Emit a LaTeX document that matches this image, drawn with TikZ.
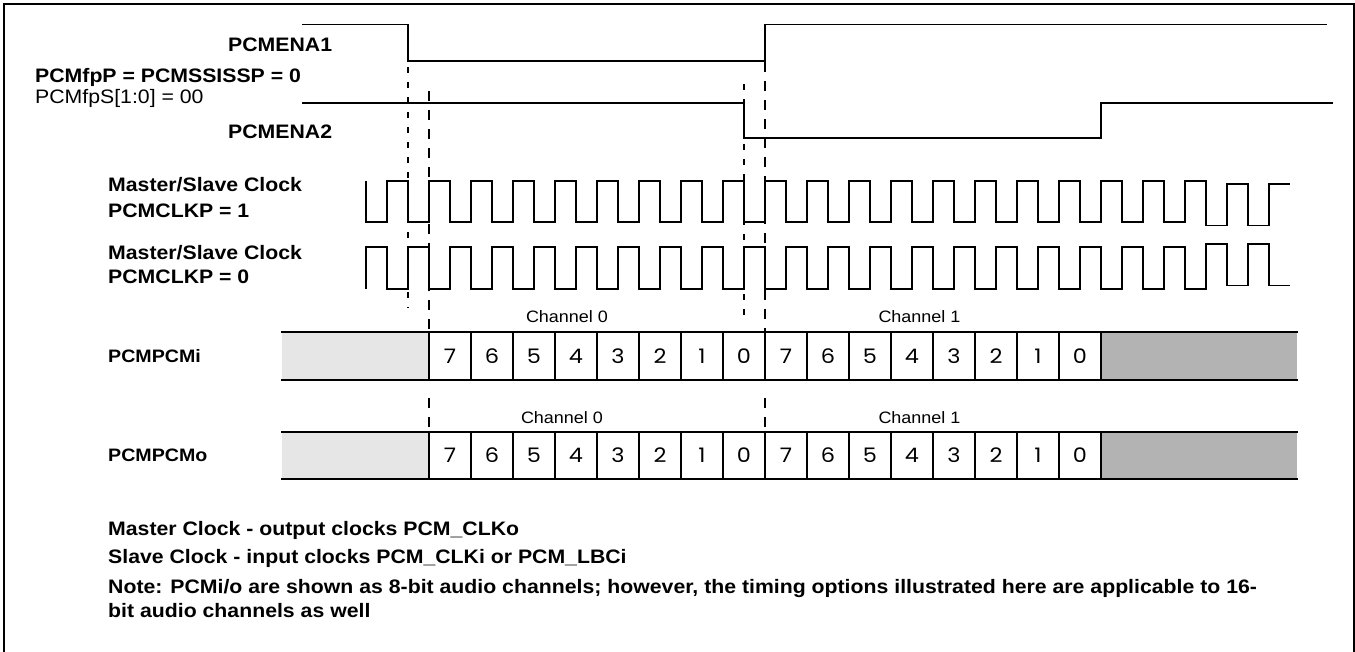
\documentclass[tikz,border=0pt]{standalone}
\usepackage{fontspec}
\setmainfont{Liberation Sans}[FakeStretch=1.09]
\newfontfamily\digitfont{Poppins}[FakeStretch=1.12]
\definecolor{lightg}{HTML}{E6E6E6}
\definecolor{darkg}{HTML}{B3B3B3}
\begin{document}
\begin{tikzpicture}[x=1pt,y=-1pt,
  sig/.style={line width=1.6pt},
  frameline/.style={line width=2pt},
  boxline/.style={line width=1.4pt},
  dashA/.style={line width=1.6pt, dash pattern=on 6pt off 9pt},
  dashB/.style={line width=1.6pt, dash pattern=on 10pt off 9pt},
  lbl/.style={anchor=base west, inner sep=0pt, font=\fontsize{19.5}{22}\selectfont\bfseries},
  rowlbl/.style={anchor=base west, inner sep=0pt, font=\fontsize{18}{21}\selectfont\bfseries},
  lblreg/.style={anchor=base west, inner sep=0pt, font=\fontsize{19.5}{22}\selectfont},
  note/.style={anchor=base west, inner sep=0pt, font=\fontsize{19.5}{22}\selectfont\bfseries},
  chan/.style={anchor=center, inner sep=0pt, font=\fontsize{16.5}{19}\selectfont},
  digit/.style={anchor=center, inner sep=0pt, font=\fontsize{20}{22}\digitfont}]
\useasboundingbox (0,0) rectangle (1355,652);
% frame
\draw[frameline] (4,654) -- (4,4) -- (1354,4) -- (1354,654);
% enable signals
\draw[sig] (302,24.5) -- (408,24.5) -- (408,61) -- (765,61) -- (765,24.5) -- (1327,24.5);
\draw[sig] (302,103) -- (744,103) -- (744,138) -- (1101,138) -- (1101,103) -- (1333,103);
% clocks
\draw[sig] (366,181) -- (366,222)
  \foreach \k in {0,...,18}{ -- ({387+42*\k},222) -- ({387+42*\k},181) -- ({408+42*\k},181) -- ({408+42*\k},222)}
  -- (1185,222) -- (1185,181) -- (1206,181) -- (1206,225.7) -- (1227,225.7) -- (1227,184)
  -- (1248,184) -- (1248,225.7) -- (1269,225.7) -- (1269,184) -- (1290,184);
\draw[sig] (366,289) -- (366,247)
  \foreach \k in {0,...,18}{ -- ({387+42*\k},247) -- ({387+42*\k},289) -- ({408+42*\k},289) -- ({408+42*\k},247)}
  -- (1185,247) -- (1185,289) -- (1206,289) -- (1206,244) -- (1227,244) -- (1227,285.7)
  -- (1248,285.7) -- (1248,244) -- (1269,244) -- (1269,285.7) -- (1290,285.7);
% dashed guides
\draw[dashA] (408,52) -- (408,308);
\draw[dashA] (744,84) -- (744,317);
\draw[dashB] (429,91) -- (429,332);
\draw[dashB] (765,62) -- (765,332);
\draw[dashB] (429,398) -- (429,432);
\draw[dashB] (765,398) -- (765,432);
% data rows
\foreach \T/\B/\r in {332/380/i,432/479/o}{
  \fill[lightg] (282,\T) rectangle (429,\B);
  \fill[darkg] (1101,\T) rectangle (1297,\B);
  \draw[boxline] (281,\T) -- (1298,\T);
  \draw[boxline] (281,\B) -- (1298,\B);
  \foreach \k in {0,...,16}{\draw[boxline] ({429+42*\k},\T) -- ({429+42*\k},\B);}
  \foreach \d [count=\i from 0] in {7,6,5,4,3,2,1,0,7,6,5,4,3,2,1,0}{
    \node[digit] (bit\r\i) at ({450+42*\i},{(\T+\B)/2}) {\d};}
}
% channel labels
\node[chan] (ch0i) at (567,317) {Channel 0};
\node[chan] (ch1i) at (919.5,317) {Channel 1};
\node[chan] (ch0o) at (562,418) {Channel 0};
\node[chan] (ch1o) at (919.5,418) {Channel 1};
% left labels
\node[lbl] (ena1) at (228,52) {PCMENA1};
\node[lbl] (fpp) at (35,82.7) {PCMfpP = PCMSSISSP = 0};
\node[lblreg] (fps) at (35,103.7) {PCMfpS[1:0] = 00};
\node[lbl] (ena2) at (228,138.7) {PCMENA2};
\node[lbl] (ms1) at (108,192) {Master/Slave Clock};
\node[lbl] (clkp1) at (108,218) {PCMCLKP = 1};
\node[lbl] (ms0) at (108,260) {Master/Slave Clock};
\node[lbl] (clkp0) at (108,284) {PCMCLKP = 0};
\node[rowlbl] (pcmi) at (108,362.5) {PCMPCMi};
\node[rowlbl] (pcmo) at (108,461.5) {PCMPCMo};
% notes
\node[note] (n1) at (108,535) {Master Clock - output clocks PCM\_CLKo};
\node[note] (n2) at (108,563) {Slave Clock - input clocks PCM\_CLKi or PCM\_LBCi};
\node[note] (n3) at (108,593) {Note: PCMi/o are shown as 8-bit audio channels; however, the timing options illustrated here are applicable to 16-};
\node[note] (n4) at (108,617) {bit audio channels as well};
\end{tikzpicture}
\end{document}
